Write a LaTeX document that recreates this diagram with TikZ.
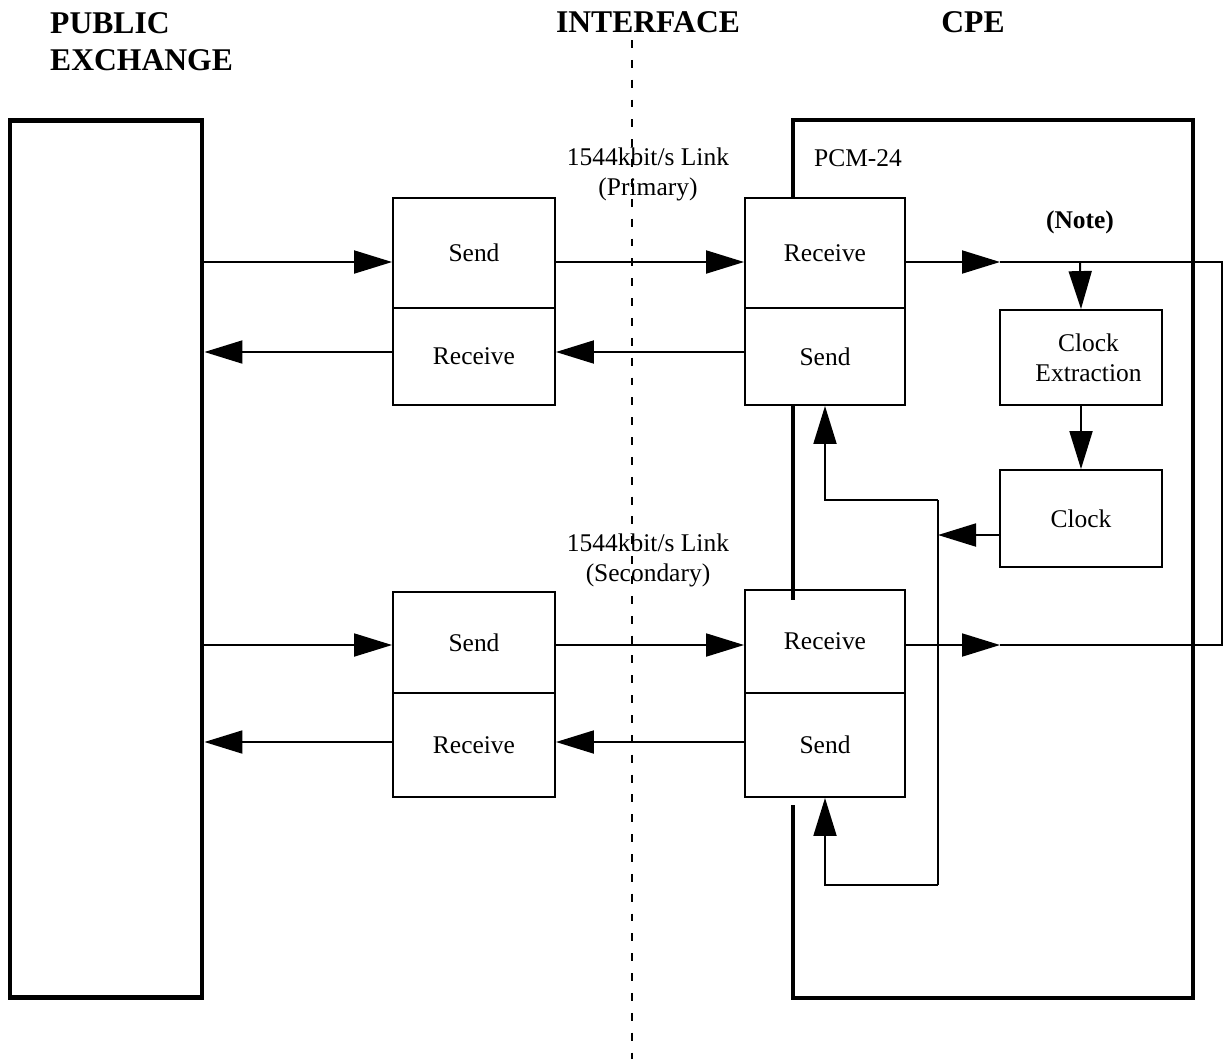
\documentclass[tikz,border=0pt]{standalone}
\usepackage{fontspec}
\setmainfont{Liberation Serif}
\usetikzlibrary{arrows.meta}

\tikzset{box/.style={draw,line width=1.1pt,inner sep=0pt,align=center,minimum width=3.24cm,font=\fontsize{14.5}{17}\selectfont},
bigbox/.style={draw,line width=2.8pt,inner sep=0pt},
head/.style={font=\bfseries\fontsize{18}{21}\selectfont,align=left},
lbl/.style={font=\fontsize{14.5}{17}\selectfont,align=center},
ln/.style={line width=1.1pt},
arr/.style={line width=1.1pt,-{Triangle[length=0.76cm,width=0.46cm]}}}

\begin{document}
\begin{tikzpicture}[x=0.02cm,y=-0.02cm]
\useasboundingbox (0,0) rectangle (1226,1059);
% headings
\node[head,anchor=north west] (hpe) at (44,6) {PUBLIC\\EXCHANGE};
\node[head] (hif) at (648,22) {INTERFACE};
\node[head] (hcpe) at (973,22) {CPE};
\draw[line width=0.6pt,dash pattern=on 4.5pt off 6.8pt] (632,40)--(632,1059);
% exchange
\node[bigbox,minimum width=3.84cm,minimum height=17.56cm] (pe) at (106,559) {};
% cpe outline
\draw[line width=2.8pt] (793,198)--(793,120)--(1193,120)--(1193,998)--(793,998)--(793,805);
\draw[line width=2.8pt] (793,405)--(793,600);
\node[lbl] (pcm) at (858,158) {PCM-24};
\node[lbl,font=\bfseries\fontsize{14.5}{17}\selectfont] (note) at (1080,222) {(Note)};
% link labels
\node[lbl] (lk1) at (648,174) {1544kbit/s Link\\(Primary)};
\node[lbl] (lk2) at (648,560) {1544kbit/s Link\\(Secondary)};
% line terminations, exchange side
\node[box,minimum height=2.2cm] (s1) at (474,253) {Send};
\node[box,minimum height=1.94cm] (r1) at (474,356.5) {Receive};
\node[box,minimum height=2.02cm] (s2) at (474,642.5) {Send};
\node[box,minimum height=2.08cm] (r2) at (474,745) {Receive};
% line terminations, cpe side
\node[box,minimum width=3.2cm,minimum height=2.2cm] (cr1) at (825,253) {Receive};
\node[box,minimum width=3.2cm,minimum height=1.94cm] (cs1) at (825,356.5) {Send};
\node[box,minimum width=3.2cm,minimum height=2.06cm] (cr2) at (825,641.5) {Receive};
\node[box,minimum width=3.2cm,minimum height=2.08cm] (cs2) at (825,745) {Send};
% clock
\node[box,minimum height=1.9cm] (ce) at (1081,357.5) {\hspace*{0.3cm}Clock\\\hspace*{0.3cm}Extraction};
\node[box,minimum height=1.94cm] (ck) at (1081,518.5) {Clock};
\coordinate (j1) at (1000,262);
\coordinate (j2) at (1000,645);
\coordinate (c1) at (1222,262);
\coordinate (c2) at (1222,645);
\coordinate (tap) at (1080,262);
\coordinate (b1) at (938,500);
\coordinate (b2) at (938,885);
\coordinate (bm) at (938,535);
% primary link
\path[draw,arr] (pe.east |- j1)--(s1.west |- j1);
\path[draw,arr] (s1.east |- j1)--(cr1.west |- j1);
\path[draw,arr] (cs1.west |- 0,352)--(r1.east |- 0,352);
\path[draw,arr] (r1.west |- 0,352)--(pe.east |- 0,352);
% secondary link
\path[draw,arr] (pe.east |- j2)--(s2.west |- j2);
\path[draw,arr] (s2.east |- j2)--(cr2.west |- j2);
\path[draw,arr] (cs2.west |- 0,742)--(r2.east |- 0,742);
\path[draw,arr] (r2.west |- 0,742)--(pe.east |- 0,742);
% receive loop
\path[draw,arr] (cr1.east |- j1)--(j1);
\path[draw,arr] (cr2.east |- j2)--(j2);
\path[draw,ln] (j1)--(c1)--(c2)--(j2);
\path[draw,arr] (tap)--(ce.north);
\path[draw,arr] (ce.south)--(ck.north);
% clock to send
\path[draw,arr] (bm -| ck.west)--(bm);
\path[draw,ln] (b1)--(b2);
\path[draw,arr] (b1)-|(cs1.south);
\path[draw,arr] (b2)-|(cs2.south);
\end{tikzpicture}
\end{document}
